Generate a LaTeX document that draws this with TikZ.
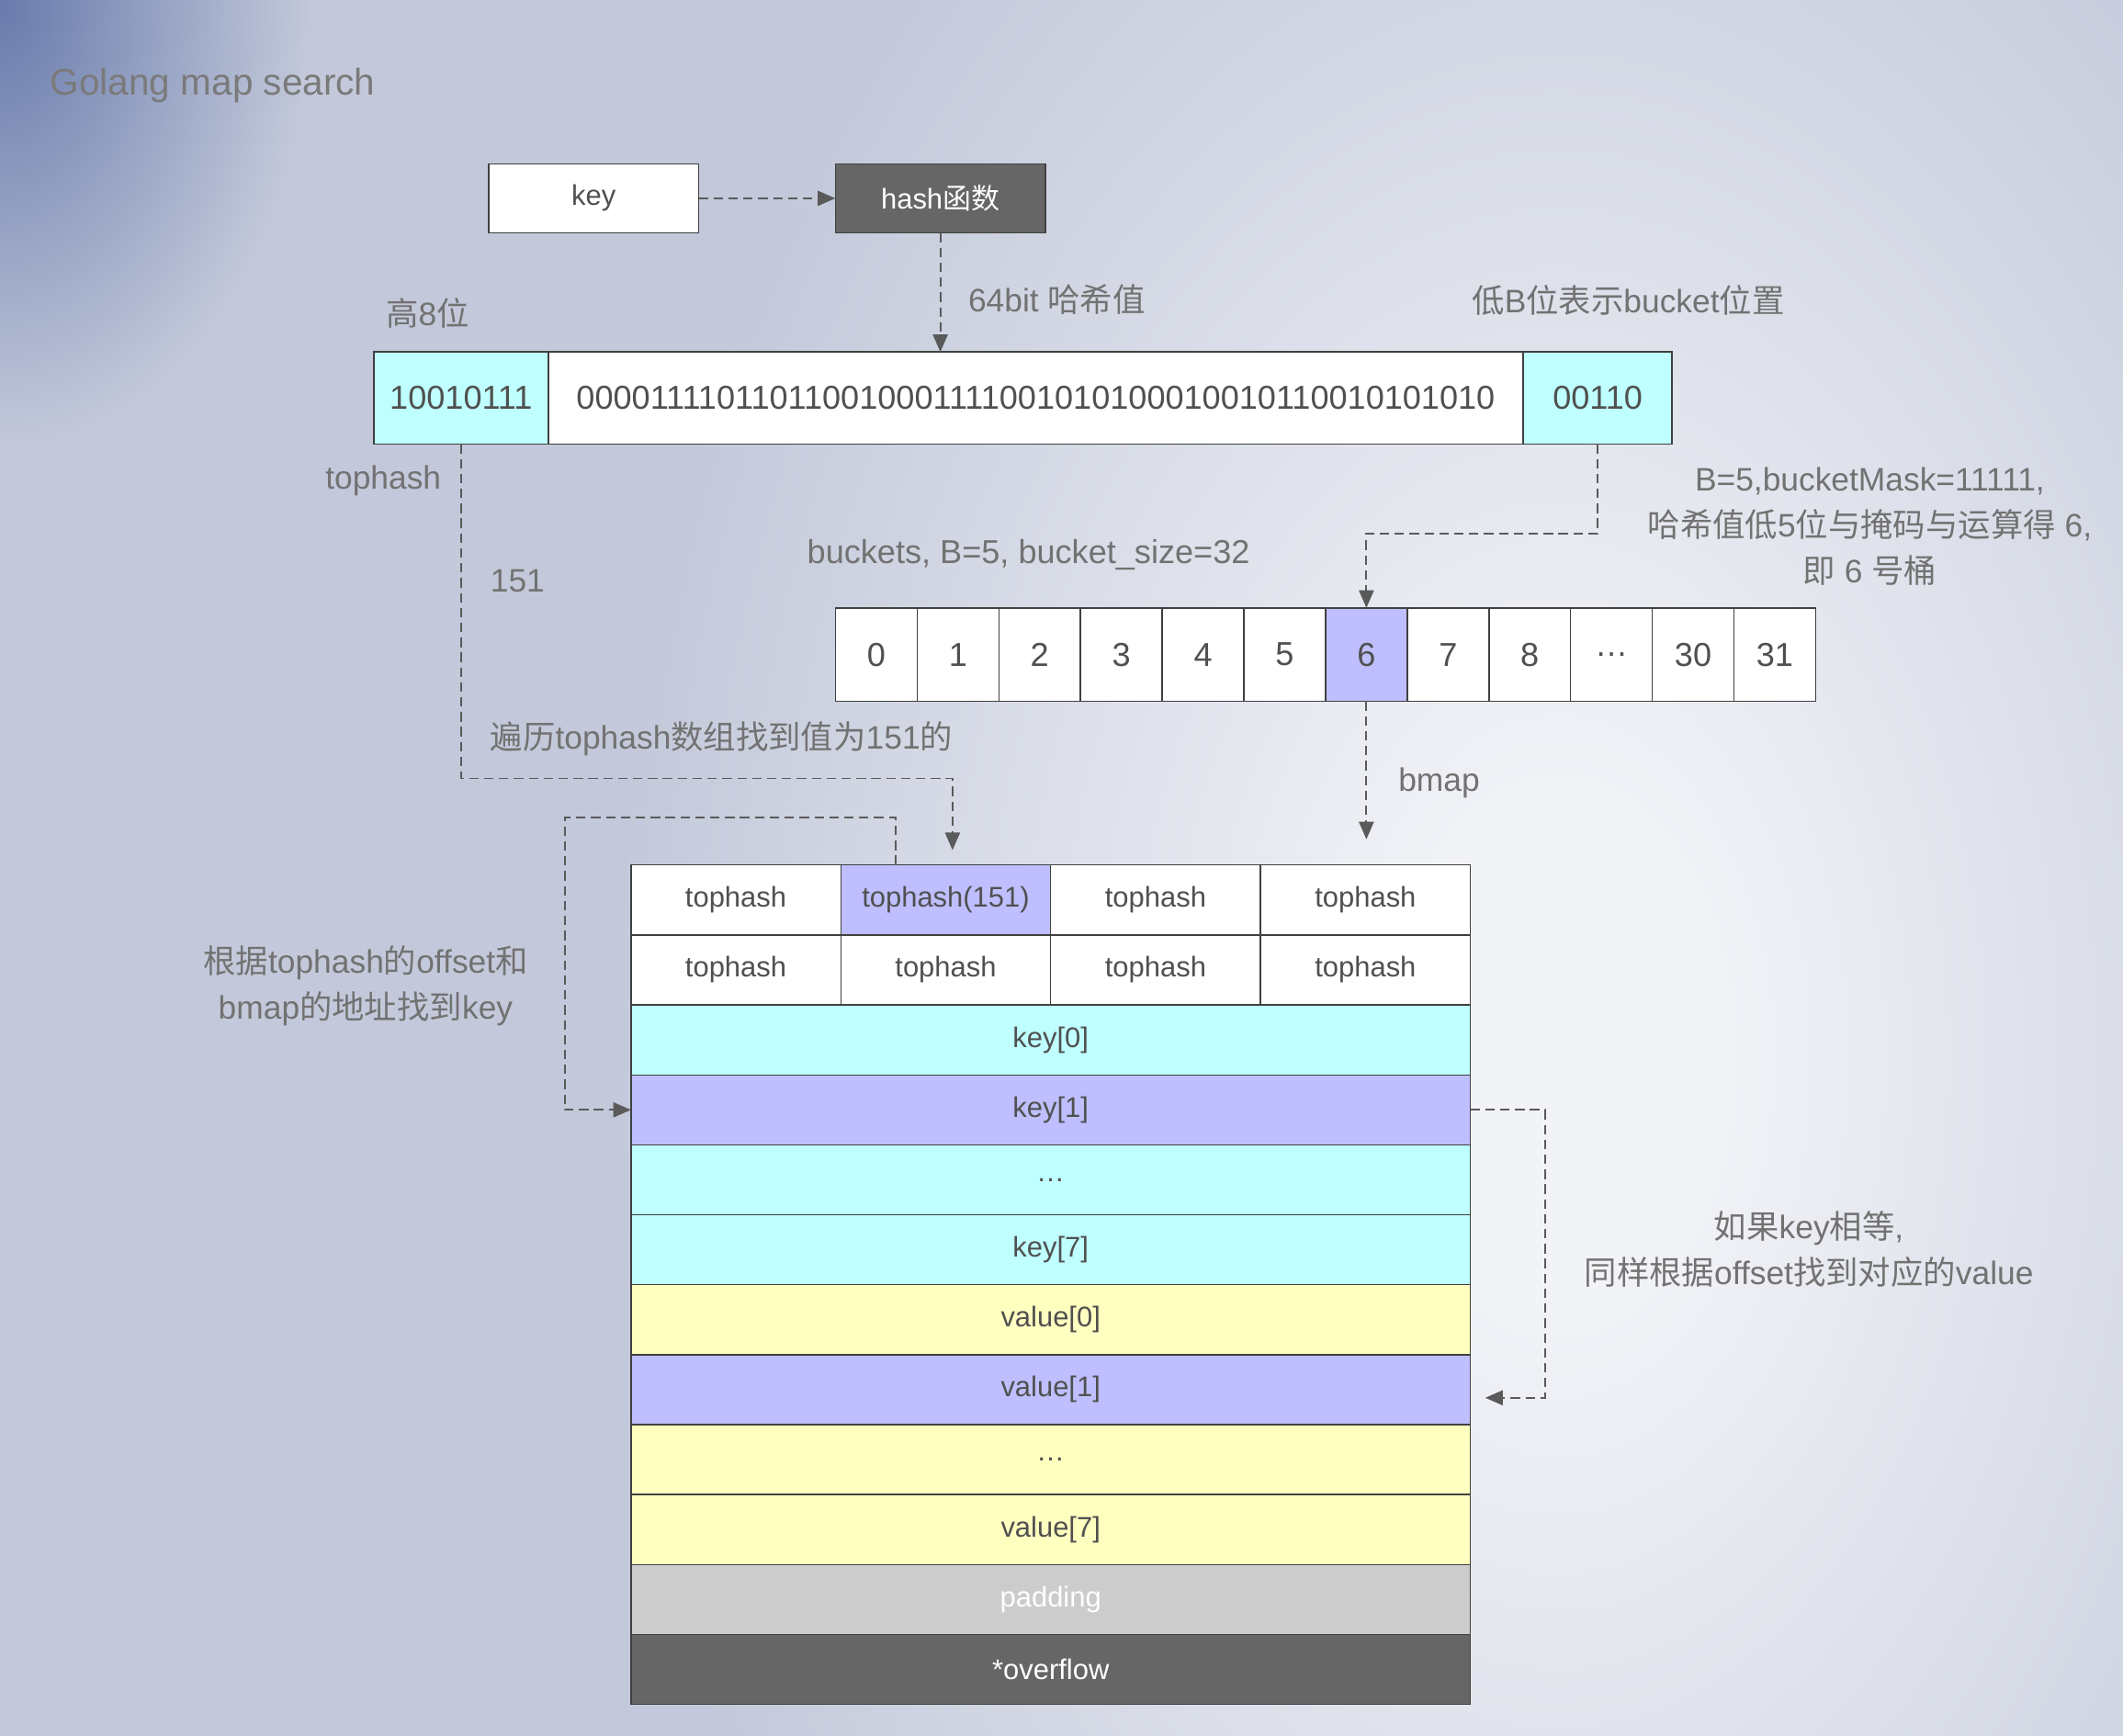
\documentclass[tikz,border=0pt]{standalone}
\usepackage{fontspec}
\setmainfont{Liberation Sans}
\newfontfamily\cjk{Noto Sans CJK SC}
\usetikzlibrary{arrows.meta, positioning}
\definecolor{bgouter}{HTML}{C3C9DA}
\definecolor{bginner}{HTML}{F2F3F7}
\definecolor{tlblue}{HTML}{687AAC}
\definecolor{linec}{HTML}{404040}
\definecolor{cellt}{HTML}{505050}
\definecolor{lblt}{HTML}{727272}
\definecolor{titlec}{HTML}{7A7A7A}
\definecolor{flowc}{HTML}{5A5A5A}
\definecolor{cyanc}{HTML}{BFFFFF}
\definecolor{lav}{HTML}{BFBFFF}
\definecolor{yelc}{HTML}{FFFFC0}
\definecolor{padc}{HTML}{CCCCCC}
\definecolor{darkc}{HTML}{666666}
\pgfdeclareradialshading{bgglow}{\pgfpoint{0bp}{0bp}}{color(0bp)=(bginner); color(4bp)=(bginner); color(25bp)=(bgouter); color(50bp)=(bgouter)}
\pgfdeclareradialshading{cornerglow}{\pgfpoint{0bp}{0bp}}{color(0bp)=(tlblue); color(25bp)=(bgouter); color(50bp)=(bgouter)}
\tikzstyle{cell} = [draw=linec, line width=1pt, fill=white, rectangle, inner sep=0pt, outer sep=0pt, text=cellt, font=\fontsize{21}{25}\selectfont]
\tikzstyle{bit} = [cell, minimum height=68pt, font=\fontsize{24.5}{28}\selectfont]
\tikzstyle{lbl} = [text=lblt, inner sep=0pt, font=\fontsize{24}{34}\selectfont]
\tikzstyle{flow} = [draw=flowc, line width=1.3pt, dash pattern=on 7pt off 4pt, ->]
\newcommand{\zh}[1]{{\cjk #1}}

\begin{document}
\begin{tikzpicture}[x=1pt, y=-1pt, >={Triangle[length=13pt, width=11pt]}]
    % background
    \fill[bgouter] (0,0) rectangle (1568,1282);
    \begin{scope}
        \clip (0,0) rectangle (1568,1282);
        \shade[shading=bgglow] (1150,780) ellipse [x radius=700, y radius=1100];
        \shade[shading=cornerglow] (0,0) ellipse [x radius=230, y radius=330];
    \end{scope}
    \useasboundingbox (0,0) rectangle (1568,1282);

    \node [lbl, anchor=west, text=titlec, font=\fontsize{27.5}{30}\selectfont] (title) at (37,63) {Golang map search};

    % key -> hash
    \node [cell, minimum width=155pt, minimum height=51pt] (key) at (438.5,146.5) {key};
    \node [cell, fill=darkc, text=white, minimum width=155pt, minimum height=51pt, right=101pt of key] (hash) {hash\zh{函数}};
    \draw [flow] (key) -- (hash);

    % 64 bit hash value
    \node [bit, fill=cyanc, minimum width=129pt] (hb) at (340.5,294) {10010111};
    \node [bit, minimum width=720pt, right=0pt of hb] (mid) {000011110110110010001111001010100010010110010101010};
    \node [bit, fill=cyanc, minimum width=110pt, right=0pt of mid] (lb) {00110};
    \draw [flow] (hash) -- node [lbl, right=20pt, yshift=-5pt] {64bit \zh{哈希值}} (hash.south |- mid.north);

    \node [lbl, anchor=west] (high) at (285,231) {\zh{高}8\zh{位}};
    \node [lbl, anchor=west] (low) at (1087,222) {\zh{低}B\zh{位表示}bucket\zh{位置}};
    \node [lbl, anchor=east] (thl) at (326,355) {tophash};
    \node [lbl, anchor=west] (n151) at (362,429) {151};
    \node [lbl, anchor=west, font=\fontsize{24.5}{34}\selectfont] (bkl) at (596,410) {buckets, B=5, bucket\_size=32};
    \node [lbl, align=center] (mask) at (1381,389) {B=5,bucketMask=11111,\\\zh{哈希值低}5\zh{位与掩码与运算得} 6,\\\zh{即} 6 \zh{号桶}};

    % buckets
    \foreach \t/\f [count=\i from 0] in {0/white,1/white,2/white,3/white,4/white,5/white,6/lav,7/white,8/white,\ldots/white,30/white,31/white}
        \node [bit, fill=\f, minimum width=60.33pt, minimum height=69pt] (b\i) at (647.2+60.33*\i,483.5) {\t};
    \draw [flow] (lb.south) -- ++(0,66) -| (b6.north);

    \node [lbl, anchor=west] (walk) at (362,546) {\zh{遍历}tophash\zh{数组找到值为}151\zh{的}};

    % bmap
    \foreach \t/\f [count=\i from 0] in {tophash/white,tophash(151)/lav,tophash/white,tophash/white,tophash/white,tophash/white,tophash/white,tophash/white} {
        \pgfmathtruncatemacro{\col}{mod(\i,4)}
        \pgfmathtruncatemacro{\row}{div(\i,4)}
        \node [cell, fill=\f, minimum width=155pt, minimum height=51.67pt] (th\i) at (543.5+155*\col,664.8+51.67*\row) {\t};
    }
    \foreach \t/\f/\c/\n [count=\i] in {key[0]/cyanc/cellt/k0,key[1]/lav/cellt/k1,\ldots/cyanc/cellt/kd,key[7]/cyanc/cellt/k7,value[0]/yelc/cellt/v0,value[1]/lav/cellt/v1,\ldots/yelc/cellt/vd,value[7]/yelc/cellt/v7,padding/padc/white/pad,*overflow/darkc/white/ovf}
        \node [cell, fill=\f, text=\c, minimum width=620pt, minimum height=51.67pt] (\n) at (776,716.5+51.67*\i) {\t};

    \draw [flow, shorten >=11pt] (hb.south) -- ++(0,247) -| ([xshift=5pt]th1.north);
    \draw [flow, shorten >=19pt] (b6.south) -- node [lbl, right=23pt] {bmap} (b6.south |- th3.north);
    \draw [flow] ([xshift=-37pt]th1.north) -- ++(0,-35) -| ([xshift=-49pt]k1.west) -- (k1.west);
    \node [lbl, align=center] (offl) at (270,728) {\zh{根据}tophash\zh{的}offset\zh{和}\\bmap\zh{的地址找到}key};

    \draw [flow, shorten >=11pt] (k1.east) -- ++(55,0) |- ([yshift=-6pt]v1.east);
    \node [lbl, align=center] (same) at (1336,923) {\zh{如果}key\zh{相等},\\\zh{同样根据}offset\zh{找到对应的}value};
\end{tikzpicture}
\end{document}
